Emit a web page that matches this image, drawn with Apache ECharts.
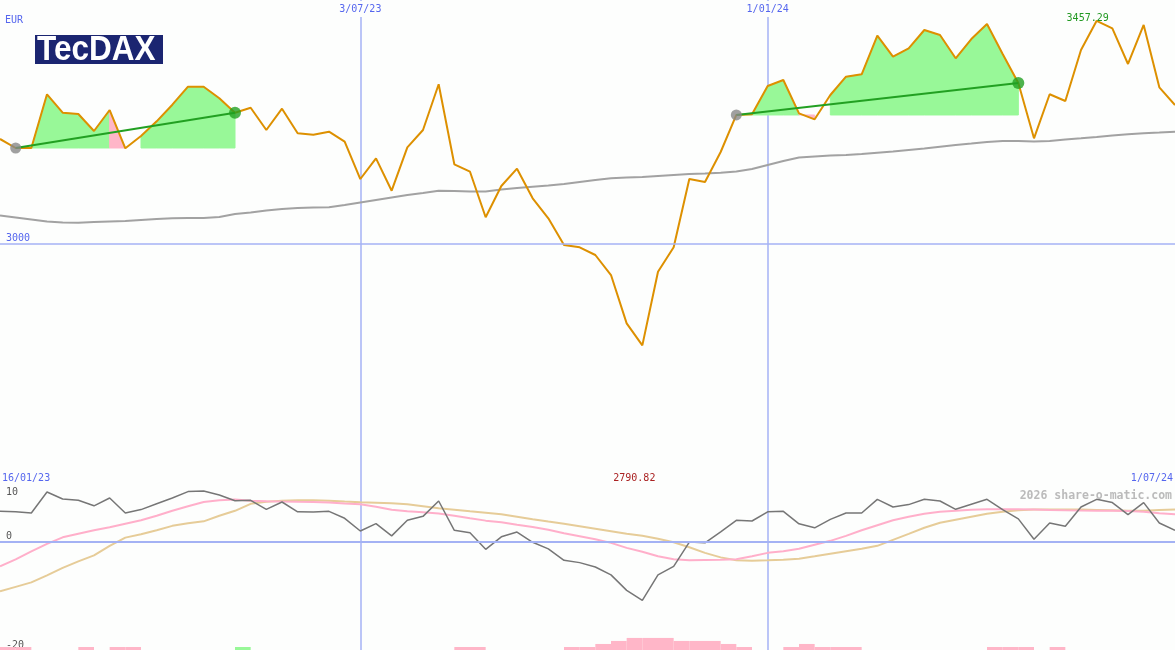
<!DOCTYPE html>
<html><head><meta charset="utf-8">
<script src="https://cdn.jsdelivr.net/npm/echarts@6/dist/echarts.min.js"></script>
<style>html,body{margin:0;padding:0;background:#fdfefd}#c{width:1175px;height:650px}</style>
</head><body><div id="c"></div>
<script>
// ---------- data ----------
const firstWeek = [2023, 0, 23];          // first plotted week (Monday)
const weekCount = 76;
const rangeLabels = ['16/01/23', '1/07/24'];
const markDates = ['3/07/23', '1/01/24'];
const currency = 'EUR';
const indexName = 'TecDAX';
const watermark = '2026 share-o-matic.com';
const mainTicks = [3000];
const lowerTicks = [-20, 0, 10];

const price = [3214.6,3196.1,3196.1,3306.4,3268.6,3265.9,3231.0,3274.1,3195.5,3220.7,
3250.9,3285.0,3322.0,3322.0,3298.2,3268.6,3278.8,3233.1,3276.8,3226.3,
3223.4,3229.6,3209.0,3132.4,3174.9,3108.4,3197.5,3233.1,3326.9,3162.6,
3147.4,3053.8,3118.1,3153.6,3092.8,3051.7,2996.9,2992.2,2976.4,2935.3,
2836.1,2790.82,2942.1,2992.2,3132.4,3126.3,3187.9,3263.9,3265.3,3323.4,
3335.7,3267.3,3255.0,3304.9,3342.5,3347.4,3426.7,3383.6,3400.8,3438.4,
3428.1,3380.3,3419.9,3450.7,3389.1,3329.6,3216.0,3306.4,3292.6,3397.3,
3457.29,3441.9,3368.6,3448.7,3320.7,3284.4];

const movingAvg = [3057.5,3053.4,3049.3,3045.2,3043.1,3042.7,3044.1,3045.2,3046.2,3048.3,
3050.3,3051.7,3052.4,3052.4,3054.4,3060.6,3063.7,3067.8,3070.8,3072.9,
3073.9,3074.3,3079.1,3084.2,3089.3,3094.5,3099.6,3103.7,3108.4,3107.8,
3106.8,3106.8,3110.9,3114.0,3116.6,3119.1,3122.2,3126.3,3130.4,3133.9,
3135.5,3136.5,3138.6,3140.7,3142.7,3143.7,3145.4,3147.8,3153.0,3161.2,
3169.4,3176.6,3178.6,3180.7,3181.7,3183.8,3186.4,3188.9,3192.0,3195.1,
3198.8,3202.3,3205.3,3208.4,3210.5,3210.5,3209.4,3210.5,3213.6,3216.0,
3218.7,3221.8,3224.2,3226.3,3227.9,3229.6];

// trend periods: [start week index, end week index]
const trends = [[1, 15], [47, 65]];

const oscillator = [5.52,5.43,5.21,9.08,7.79,7.55,6.54,7.97,5.21,5.84,
6.91,7.97,9.15,9.26,8.53,7.46,7.55,5.89,7.24,5.43,
5.40,5.52,4.24,1.90,3.26,1.01,3.87,4.60,7.42,2.03,
1.60,-1.47,0.83,1.71,-0.18,-1.38,-3.50,-3.92,-4.73,-6.17,
-9.02,-10.87,-6.17,-4.60,-0.13,-0.28,1.75,3.87,3.74,5.43,
5.52,3.22,2.49,4.05,5.21,5.21,7.73,6.32,6.76,7.73,
7.42,5.89,6.81,7.73,5.84,4.14,0.37,3.37,2.76,6.32,
7.73,7.13,4.92,7.13,3.37,2.03];

const signalFast = [-4.60,-3.31,-1.84,-0.46,0.74,1.38,2.03,2.58,3.22,3.87,
4.70,5.62,6.45,7.24,7.55,7.68,7.46,7.37,7.31,7.27,
7.24,7.13,6.96,6.81,6.35,5.80,5.52,5.34,5.12,4.70,
4.24,3.81,3.50,3.04,2.63,2.12,1.47,0.92,0.37,-0.28,
-1.20,-1.93,-2.76,-3.31,-3.50,-3.44,-3.41,-3.31,-2.76,-2.12,
-1.84,-1.38,-0.64,0.09,1.01,2.03,2.95,3.87,4.51,5.06,
5.43,5.65,5.80,5.89,5.89,5.89,5.84,5.76,5.71,5.67,
5.65,5.62,5.58,5.43,5.16,4.97];

const signalSlow = [-9.21,-8.38,-7.55,-6.26,-4.88,-3.68,-2.58,-0.83,0.68,1.29,
2.03,2.85,3.31,3.68,4.70,5.62,6.91,7.27,7.46,7.55,
7.55,7.46,7.31,7.18,7.09,7.00,6.81,6.45,6.08,5.80,
5.52,5.25,4.97,4.51,4.05,3.63,3.22,2.76,2.30,1.84,
1.38,1.01,0.46,-0.18,-1.10,-2.12,-2.95,-3.50,-3.59,-3.50,
-3.37,-3.19,-2.76,-2.30,-1.84,-1.38,-0.83,0.28,1.38,2.49,
3.41,3.96,4.51,5.06,5.43,5.71,5.84,5.84,5.84,5.84,
5.78,5.71,5.62,5.65,5.75,5.84];

// histogram level (sign: + up/green, - down/pink)
const histogram = [-1,-1,0,0,0,-1,0,-1,-1,0,
0,0,0,0,0,1,0,0,0,0,
0,0,0,0,0,0,0,0,0,-1,
-1,0,0,0,0,0,-1,-1,-2,-3,
-4,-4,-4,-3,-3,-3,-2,-1,0,0,
-1,-2,-1,-1,-1,0,0,0,0,0,
0,0,0,-1,-1,-1,0,-1,0,0,
0,0,0,0,0,0];

// ---------- build ----------
const dates = [];
{
  const d = new Date(firstWeek[0], firstWeek[1], firstWeek[2]);
  for (let i = 0; i < weekCount; i++) {
    dates.push(d.getDate() + '/' + String(d.getMonth() + 1).padStart(2, '0') + '/' + String(d.getFullYear()).slice(2));
    d.setDate(d.getDate() + 7);
  }
}

const BG = '#fdfefd';
const BLUE_TXT = '#5566ee';
const GRIDLINE = '#a4b2f4';
const MONO = '"DejaVu Sans Mono", monospace';
const GREEN_FILL = '#98f898';
const PINK_FILL = '#ffb6c8';

const isMark = (idx, val) => markDates.indexOf(val) >= 0;

const fillData = [];
trends.forEach((t, ti) => { for (let i = t[0]; i < t[1]; i++) fillData.push([i, price[i], ti]); });

const series = [];
series.push({
  type: 'custom', xAxisIndex: 0, yAxisIndex: 0, z: 1, silent: true,
  data: fillData,
  renderItem: function (params, api) {
    const i = api.value(0), ti = api.value(2);
    const base = price[trends[ti][0]];
    const p0 = price[i], p1 = price[i + 1];
    let fill = null;
    if (p1 < base) fill = PINK_FILL; else if (p0 >= base) fill = GREEN_FILL;
    if (!fill) return null;
    return { type: 'polygon',
      shape: { points: [api.coord([i, p0]), api.coord([i + 1, p1]), api.coord([i + 1, base]), api.coord([i, base])] },
      style: { fill: fill, stroke: fill, lineWidth: 1 } };
  }
});
series.push({ type: 'line', xAxisIndex: 0, yAxisIndex: 0, data: movingAvg, symbol: 'none', z: 2,
  lineStyle: { color: '#a2a2a2', width: 2 } });
series.push({ type: 'line', xAxisIndex: 0, yAxisIndex: 0, data: price, symbol: 'none', z: 3,
  lineStyle: { color: '#dd9000', width: 2 },
  markLine: { silent: true, symbol: 'none', label: { show: false },
    lineStyle: { color: GRIDLINE, width: 1.5, type: 'solid' },
    data: mainTicks.map(v => ({ yAxis: v })) } });
trends.forEach(t => {
  series.push({ type: 'line', xAxisIndex: 0, yAxisIndex: 0, symbol: 'none', z: 4,
    data: [[t[0], price[t[0]]], [t[1], price[t[1]]]],
    lineStyle: { color: '#22a022', width: 2 } });
});
series.push({ type: 'scatter', xAxisIndex: 0, yAxisIndex: 0, z: 5, symbolSize: 11,
  itemStyle: { color: '#888888' }, data: trends.map(t => [t[0], price[t[0]]]) });
series.push({ type: 'scatter', xAxisIndex: 0, yAxisIndex: 0, z: 5, symbolSize: 12,
  itemStyle: { color: '#22a022' }, data: trends.map(t => [t[1], price[t[1]]]) });

// lower panel
series.push({
  type: 'custom', xAxisIndex: 1, yAxisIndex: 2, z: 1, silent: true,
  data: histogram.map((h, i) => [i, Math.abs(h), h]),
  renderItem: function (params, api) {
    const i = api.value(0), h = api.value(1), s = api.value(2);
    if (!h) return null;
    const a = api.coord([i, h]), b = api.coord([i + 1, 0]);
    return { type: 'rect', shape: { x: a[0], y: a[1], width: b[0] - a[0], height: b[1] - a[1] },
      style: { fill: s > 0 ? GREEN_FILL : PINK_FILL } };
  }
});
series.push({ type: 'line', xAxisIndex: 1, yAxisIndex: 1, data: signalSlow, symbol: 'none', z: 2,
  lineStyle: { color: '#e6cc98', width: 2 } });
series.push({ type: 'line', xAxisIndex: 1, yAxisIndex: 1, data: signalFast, symbol: 'none', z: 3,
  lineStyle: { color: '#ffafca', width: 2 } });
series.push({ type: 'line', xAxisIndex: 1, yAxisIndex: 1, data: oscillator, symbol: 'none', z: 4,
  lineStyle: { color: '#767676', width: 1.5 },
  markLine: { silent: true, symbol: 'none', label: { show: false },
    lineStyle: { color: GRIDLINE, width: 2, type: 'solid' },
    data: [{ yAxis: 0 }] } });

const tickLabel = (list) => (v) => list.indexOf(v) >= 0 ? String(v) : '';

const option = {
  animation: false,
  backgroundColor: BG,
  grid: [
    { left: -1, right: -1, top: 0, height: 487 },
    { left: -1, right: -1, top: 487, bottom: 0 }
  ],
  xAxis: [
    { gridIndex: 0, type: 'category', data: dates, boundaryGap: false, position: 'top',
      axisLine: { show: false }, axisTick: { show: false },
      axisLabel: { inside: true, interval: isMark, margin: 1, color: BLUE_TXT, fontFamily: MONO, fontSize: 10,
        backgroundColor: BG, padding: [3, 1, 3, 1] },
      splitLine: { show: true, interval: isMark, lineStyle: { color: GRIDLINE, width: 1.5 } } },
    { gridIndex: 1, type: 'category', data: dates, boundaryGap: false, position: 'top',
      axisLine: { show: true, lineStyle: { color: '#7b8be8', width: 2 } }, axisTick: { show: false },
      axisLabel: { show: false },
      splitLine: { show: true, interval: isMark, lineStyle: { color: GRIDLINE, width: 1.5 } } }
  ],
  yAxis: [
    { gridIndex: 0, type: 'value', min: 2500, max: 3500, interval: 500,
      axisLine: { show: false }, axisTick: { show: false }, splitLine: { show: false },
      axisLabel: { inside: true, margin: 6, verticalAlign: 'bottom', color: BLUE_TXT, fontFamily: MONO, fontSize: 10,
        formatter: tickLabel(mainTicks) } },
    { gridIndex: 1, type: 'value', min: -20, max: 10, interval: 10,
      axisLine: { show: false }, axisTick: { show: false }, splitLine: { show: false },
      axisLabel: { inside: true, margin: 6, verticalAlign: 'bottom', verticalAlignMaxLabel: 'top',
        color: '#555555', fontFamily: MONO, fontSize: 10, formatter: tickLabel(lowerTicks) } },
    { gridIndex: 1, type: 'value', min: 0, max: 54, show: false }
  ],
  series: series
};

const chart = echarts.init(document.getElementById('c'));
chart.setOption(option);

const maxIdx = price.indexOf(Math.max.apply(null, price));
const minIdx = price.indexOf(Math.min.apply(null, price));
const pMax = chart.convertToPixel({ xAxisIndex: 0, yAxisIndex: 0 }, [maxIdx, price[maxIdx]]);
const pMin = chart.convertToPixel({ xAxisIndex: 0, yAxisIndex: 0 }, [minIdx, price[minIdx]]);

const txt = (id, x, y, text, fill, align, extra) => Object.assign({
  type: 'text', id: id, x: x, y: y, z: 50,
  style: Object.assign({ text: text, fill: fill, font: '10px ' + MONO, align: align || 'left', verticalAlign: 'middle' }, extra || {})
});

chart.setOption({
  graphic: [
    { type: 'rect', id: 'logoBox', z: 40, shape: { x: 35, y: 35, width: 128, height: 29 }, style: { fill: '#1b2571' } },
    { type: 'text', id: 'logoTxt', z: 41, x: 37, y: 50, scaleX: 0.9,
      style: { text: indexName, fill: '#ffffff', font: 'bold 35px "Liberation Sans", Arial, sans-serif', verticalAlign: 'middle' } },
    txt('eur', 5, 20, currency, BLUE_TXT),
    txt('from', 2, 478, rangeLabels[0], BLUE_TXT),
    txt('to', 1173, 478, rangeLabels[1], BLUE_TXT, 'right'),
    txt('minL', pMin[0] - 8, 478, price[minIdx].toFixed(2), '#aa2222', 'center'),
    txt('maxL', pMax[0] - 9, pMax[1] - 2, price[maxIdx].toFixed(2), '#229922', 'center'),
    txt('wm', 1172, 496, watermark, '#bbbbbb', 'right', { font: 'bold 11.5px ' + MONO })
  ]
});
</script>
</body></html>
